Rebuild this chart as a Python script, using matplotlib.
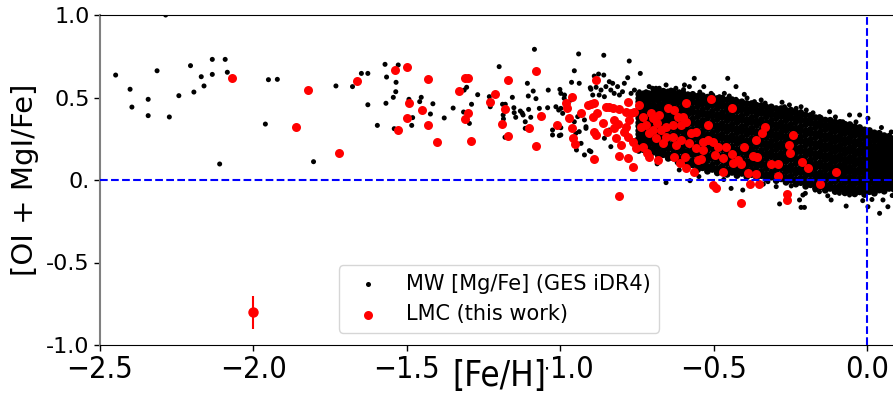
import matplotlib
matplotlib.use('Agg')
import matplotlib.pyplot as plt
from matplotlib import font_manager

# ---------------- data ----------------
# sparse / field Milky Way stars: ([Fe/H], [Mg/Fe])
mw_sparse = [
    (-2.449, 0.636), (-2.402, 0.550), (-2.396, 0.442), (-2.343, 0.489), (-2.343, 0.390),
    (-2.314, 0.662), (-2.274, 0.382), (-2.243, 0.511), (-2.205, 0.693), (-2.194, 0.533),
    (-2.170, 0.626), (-2.161, 0.570), (-2.134, 0.731), (-2.134, 0.640), (-2.110, 0.097),
    (-2.092, 0.731), (-2.085, 0.653), (-2.286, 1.000), (-1.961, 0.339), (-1.951, 0.608),
    (-1.922, 0.610), (-1.804, 0.111), (-1.731, 0.570), (-1.677, 0.566), (-1.648, 0.646),
    (-1.627, 0.646), (-1.627, 0.456), (-1.596, 0.331),
    (-1.571, 0.701), (-1.566, 0.624), (-1.528, 0.697), (-1.535, 0.592), (-1.536, 0.535),
    (-1.544, 0.501), (-1.568, 0.465), (-1.541, 0.311), (-1.493, 0.489), (-1.481, 0.378),
    (-1.484, 0.331), (-1.458, 0.475), (-1.453, 0.501), (-1.423, 0.400), (-1.415, 0.462),
    (-1.378, 0.376), (-1.349, 0.436), (-1.313, 0.545), (-1.305, 0.562), (-1.315, 0.412),
    (-1.296, 0.343), (-1.289, 0.459), (-1.269, 0.517), (-1.231, 0.505), (-1.228, 0.444),
    (-1.199, 0.687), (-1.188, 0.459), (-1.179, 0.459), (-1.186, 0.394), (-1.185, 0.370),
    (-1.180, 0.259), (-1.156, 0.501), (-1.151, 0.438), (-1.150, 0.408), (-1.145, 0.380),
    (-1.130, 0.418), (-1.124, 0.406), (-1.121, 0.394), (-1.114, 0.353), (-1.114, 0.313),
    (-1.107, 0.586), (-1.104, 0.509), (-1.088, 0.539), (-1.079, 0.493), (-1.103, 0.428),
    (-1.096, 0.380), (-1.068, 0.434), (-1.084, 0.792), (-1.039, 0.545), (-1.041, 0.438),
    (-1.001, 0.549), (-1.014, 0.444), (-1.005, 0.424), (-0.998, 0.434), (-1.025, 0.303),
    (-1.025, 0.273), (-1.003, 0.269), (-0.998, 0.317), (-0.986, 0.515), (-0.963, 0.592),
    (-0.954, 0.662), (-0.940, 0.764), (-0.965, 0.485), (-0.949, 0.283), (-0.947, 0.182),
    (-0.902, 0.559), (-0.921, 0.152), (-0.905, 0.178), (-0.916, 0.323), (-0.894, 0.515),
    (-0.938, 0.586), (-0.858, 0.756), (-0.775, 0.721), (-0.739, 0.646), (-0.889, 0.630),
    (-0.875, 0.642), (-0.858, 0.636), (-0.840, 0.596), (-0.829, 0.586), (-0.851, 0.566),
    (-0.867, 0.545), (-0.883, 0.562), (-0.900, 0.550), (-0.873, 0.515), (-0.856, 0.505),
    (-0.835, 0.545), (-0.824, 0.525), (-0.807, 0.515), (-0.791, 0.586), (-0.780, 0.620),
    (-0.813, 0.566), (-0.797, 0.535), (-0.769, 0.525), (-0.758, 0.545), (-0.742, 0.535),
    (-0.998, 0.525), (-0.987, 0.495), (-0.976, 0.434), (-0.992, 0.404), (-0.954, 0.353),
    (-0.943, 0.384), (-0.921, 0.364), (-0.916, 0.313), (-0.938, 0.293), (-0.998, 0.273),
    (-0.900, 0.172), (-0.932, 0.222), (-0.840, 0.303), (-0.856, 0.253), (-0.835, 0.202),
    (-0.753, 0.242), (-0.655, -0.016), (-0.577, -0.004), (-0.443, -0.051),
    (-0.710, 0.566), (-0.688, 0.556), (-0.655, 0.576), (-0.639, 0.545), (-0.595, 0.576),
    (-0.563, 0.616), (-0.532, 0.566), (-0.508, 0.525), (-0.481, 0.505), (-0.454, 0.616),
    (-0.427, 0.566), (-0.677, 0.535), (-0.579, 0.566), (-0.623, 0.556), (-0.677, 0.556),
    (-0.699, 0.556), (-0.720, 0.535), (-0.646, 0.525), (-0.612, 0.535), (-0.525, 0.101),
    (-0.465, 0.525), (-0.449, 0.509), (-0.427, 0.489), (-0.503, 0.515), (-0.400, 0.519),
    (-0.367, 0.475), (-0.345, 0.485), (-0.378, 0.465), (-0.277, 0.471), (-0.253, 0.455),
    (-0.231, 0.434), (-0.215, 0.414), (-0.198, 0.424), (-0.313, 0.424), (-0.285, 0.424),
    (-0.269, 0.444), (-0.405, -0.061), (-0.285, -0.145), (-0.220, -0.121), (-0.215, -0.166),
    (-0.323, -0.010), (-0.296, -0.040), (-0.247, -0.036), (-0.201, -0.081),
    (-0.215, 0.444), (-0.122, 0.414), (-0.057, 0.394), (-0.024, 0.394), (0.003, 0.374),
    (-0.079, 0.353), (-0.155, 0.384), (-0.209, -0.091), (-0.204, -0.166), (-0.068, -0.158),
    (-0.117, -0.121), (-0.014, -0.125), (0.003, -0.162), (0.041, -0.202), (0.068, -0.162),
    (0.052, -0.121), (-0.169, -0.061), (-0.155, -0.071), (-0.090, -0.081), (-0.057, -0.091),
    (0.025, -0.081), (-0.598, 0.548), (-0.545, 0.533), (-0.391, 0.497), (-0.332, 0.466),
    (-0.176, 0.407), (-0.103, 0.382), (-0.036, 0.352), (0.047, 0.318), (0.079, 0.291),
    (-0.612, 0.061), (-0.548, 0.021), (-0.338, -0.025), (-0.128, -0.096), (0.016, -0.118),
    (0.082, -0.094), (-0.684, 0.098), (-0.467, 0.003),
]

# dense Milky Way core, read column by column ([Fe/H] of column, [Mg/Fe] values)
mw_core_feh = [
    -0.744, -0.728, -0.712, -0.696, -0.680, -0.664, -0.648, -0.632, -0.616, -0.600,
    -0.584, -0.568, -0.552, -0.536, -0.520, -0.504, -0.488, -0.472, -0.456, -0.440,
    -0.424, -0.408, -0.392, -0.376, -0.360, -0.344, -0.328, -0.312, -0.296, -0.280,
    -0.264, -0.248, -0.232, -0.216, -0.200, -0.184, -0.168, -0.152, -0.136, -0.120,
    -0.104, -0.088, -0.072, -0.056, -0.040, -0.024, -0.008, 0.008, 0.024, 0.040,
    0.056, 0.072, 0.088,
]
mw_core_mgfe = [
    [.179, .201, .228, .250, .277, .299, .327, .347, .375, .396, .425, .446, .474, .495, .520],
    [.183, .204, .232, .253, .281, .302, .330, .351, .379, .400, .428, .449, .477, .498, .523],
    [.163, .185, .215, .237, .267, .289, .319, .341, .371, .393, .423, .445, .475, .497, .524],
    [.168, .190, .220, .243, .273, .295, .325, .348, .378, .400, .430, .453, .483, .505, .531],
    [.147, .171, .202, .226, .257, .281, .313, .336, .368, .391, .423, .447, .478, .502, .530],
    [.153, .177, .209, .234, .266, .290, .323, .347, .379, .404, .436, .460, .493, .517, .538],
    [.131, .156, .189, .214, .247, .272, .305, .330, .363, .388, .421, .446, .479, .504, .534],
    [.134, .160, .193, .219, .252, .278, .312, .337, .371, .396, .430, .456, .489, .515, .536],
    [.108, .134, .168, .194, .228, .254, .288, .314, .348, .374, .408, .434, .468, .494, .525],
    [.112, .139, .173, .200, .235, .261, .296, .322, .357, .384, .418, .445, .479, .506, .528],
    [.086, .113, .148, .175, .210, .237, .272, .299, .334, .361, .396, .423, .458, .485, .517],
    [.091, .119, .154, .182, .217, .245, .281, .308, .344, .371, .407, .435, .470, .498, .519],
    [.063, .091, .127, .155, .191, .219, .255, .283, .319, .347, .383, .411, .447, .475, .508],
    [.074, .102, .138, .167, .203, .231, .267, .296, .332, .360, .396, .425, .461, .489, .511],
    [.053, .081, .118, .146, .182, .211, .247, .275, .311, .340, .376, .404, .441, .469, .502],
    [.064, .092, .129, .157, .194, .222, .259, .287, .323, .352, .388, .417, .453, .482, .504],
    [.043, .071, .108, .136, .173, .201, .237, .266, .302, .331, .367, .396, .432, .460, .494],
    [.055, .083, .120, .148, .185, .213, .250, .278, .314, .343, .379, .408, .444, .473, .496],
    [.034, .063, .099, .128, .164, .193, .229, .258, .294, .323, .359, .388, .424, .453, .486],
    [.046, .074, .111, .139, .176, .204, .241, .269, .305, .334, .370, .399, .435, .464, .487],
    [.027, .055, .091, .120, .156, .184, .220, .249, .285, .313, .349, .378, .414, .442, .475],
    [.040, .068, .104, .132, .168, .196, .232, .260, .296, .324, .360, .388, .424, .452, .474],
    [.020, .048, .084, .112, .148, .176, .211, .239, .275, .303, .339, .367, .403, .431, .464],
    [.033, .061, .096, .124, .160, .188, .223, .251, .287, .314, .350, .378, .414, .441, .463],
    [.014, .042, .077, .105, .140, .168, .204, .231, .267, .294, .330, .358, .393, .421, .453],
    [.026, .053, .089, .116, .152, .179, .214, .242, .277, .305, .340, .367, .403, .430, .452],
    [.005, .032, .068, .095, .131, .158, .193, .221, .256, .284, .319, .346, .382, .409, .442],
    [.017, .044, .080, .107, .143, .170, .205, .233, .268, .296, .331, .358, .394, .421, .443],
    [-.004, .023, .059, .086, .122, .149, .184, .212, .247, .275, .310, .337, .373, .400, .433],
    [.007, .034, .070, .097, .133, .160, .195, .223, .258, .286, .321, .348, .384, .411, .433],
    [-.014, .013, .049, .076, .112, .139, .174, .202, .237, .265, .300, .327, .363, .390, .423],
    [-.003, .024, .060, .087, .123, .150, .185, .213, .248, .276, .311, .338, .374, .401, .423],
    [-.025, .002, .038, .065, .100, .128, .163, .190, .225, .253, .288, .315, .351, .378, .410],
    [-.016, .011, .046, .074, .109, .136, .171, .198, .234, .261, .296, .323, .358, .386, .407],
    [-.038, -.011, .024, .051, .086, .114, .149, .176, .211, .238, .273, .300, .335, .362, .394],
    [-.029, -.002, .033, .060, .095, .122, .156, .183, .218, .245, .280, .307, .342, .369, .391],
    [-.051, -.024, .011, .038, .073, .099, .134, .161, .196, .223, .258, .284, .319, .346, .378],
    [-.042, -.015, .019, .046, .081, .107, .142, .169, .203, .230, .265, .292, .326, .353, .375],
    [-.062, -.035, -.001, .026, .060, .087, .122, .148, .183, .209, .244, .270, .305, .332, .363],
    [-.051, -.025, .010, .036, .071, .097, .131, .158, .192, .219, .253, .279, .314, .340, .362],
    [-.070, -.044, -.009, .017, .051, .078, .112, .138, .172, .199, .233, .259, .294, .320, .351],
    [-.059, -.033, .001, .027, .061, .088, .122, .148, .182, .208, .242, .268, .302, .328, .349],
    [-.078, -.052, -.018, .008, .042, .068, .101, .127, .161, .187, .221, .247, .281, .307, .338],
    [-.067, -.041, -.008, .018, .052, .078, .111, .137, .171, .196, .230, .256, .289, .315, .336],
    [-.084, -.059, -.025, .000, .033, .059, .092, .117, .150, .176, .209, .234, .268, .293, .323],
    [-.072, -.047, -.014, .010, .043, .068, .100, .125, .158, .182, .215, .240, .272, .297, .318],
    [-.088, -.064, -.032, -.007, .025, .049, .081, .105, .138, .162, .194, .218, .250, .275, .304],
    [-.071, -.048, -.016, .007, .039, .062, .093, .117, .148, .172, .203, .226, .258, .281, .300],
    [-.080, -.058, -.027, -.005, .026, .048, .078, .101, .131, .154, .184, .206, .237, .259, .286],
    [-.061, -.040, -.010, .011, .041, .062, .091, .113, .142, .164, .193, .214, .244, .265, .283],
    [-.068, -.048, -.019, .001, .029, .050, .078, .098, .126, .147, .175, .195, .224, .244, .269],
    [-.051, -.032, -.004, .015, .043, .062, .090, .109, .136, .156, .183, .203, .230, .250, .265],
    [-.057, -.039, -.013, .006, .032, .051, .077, .095, .121, .140, .166, .184, .210, .229, .252],
]

# LMC stars (this work): ([Fe/H], [OI + MgI/Fe])
lmc = [
    (-2.070, 0.618), (-1.861, 0.323), (-1.822, 0.545), (-1.720, 0.164), (-1.661, 0.602),
    (-1.540, 0.668), (-1.501, 0.683), (-1.492, 0.465), (-1.501, 0.374), (-1.530, 0.303),
    (-1.451, 0.426), (-1.432, 0.612), (-1.430, 0.331), (-1.401, 0.230), (-1.331, 0.539),
    (-1.311, 0.620), (-1.299, 0.620), (-1.300, 0.408), (-1.310, 0.372), (-1.290, 0.238),
    (-1.230, 0.475), (-1.211, 0.523), (-1.171, 0.606), (-1.180, 0.430), (-1.190, 0.338),
    (-1.170, 0.269), (-1.080, 0.658), (-1.061, 0.388), (-1.101, 0.313), (-1.080, 0.206),
    (-1.011, 0.333), (-0.981, 0.465), (-0.979, 0.434), (-0.961, 0.501), (-0.970, 0.374),
    (-0.961, 0.313), (-0.959, 0.253), (-0.951, 0.218),
    (-0.883, 0.606), (-0.889, 0.125), (-0.883, 0.273), (-0.894, 0.384), (-0.911, 0.455),
    (-0.900, 0.461), (-0.889, 0.465), (-0.932, 0.408), (-0.891, 0.293), (-0.881, 0.404),
    (-0.851, 0.444), (-0.840, 0.440), (-0.829, 0.434), (-0.807, 0.428),
    (-0.862, 0.343), (-0.846, 0.293), (-0.824, 0.313), (-0.824, 0.364), (-0.813, 0.339),
    (-0.818, 0.253), (-0.802, 0.212), (-0.809, 0.145), (-0.809, -0.095),
    (-0.780, 0.475), (-0.786, 0.414), (-0.769, 0.404), (-0.775, 0.364), (-0.758, 0.414),
    (-0.742, 0.455), (-0.791, 0.293), (-0.780, 0.259), (-0.764, 0.232), (-0.786, 0.323),
    (-0.780, 0.131), (-0.762, 0.077), (-0.753, 0.192), (-0.731, 0.202),
    (-0.731, 0.384), (-0.737, 0.323), (-0.720, 0.333), (-0.709, 0.283), (-0.699, 0.303),
    (-0.704, 0.404), (-0.699, 0.374), (-0.683, 0.343),
    (-0.718, 0.162), (-0.709, 0.141), (-0.680, 0.121),
    (-0.688, 0.253), (-0.666, 0.222), (-0.655, 0.262),
    (-0.672, 0.303), (-0.655, 0.323), (-0.633, 0.333),
    (-0.650, 0.434), (-0.628, 0.424), (-0.617, 0.384), (-0.601, 0.384), (-0.590, 0.465),
    (-0.633, 0.262), (-0.622, 0.212), (-0.606, 0.242),
    (-0.628, 0.141), (-0.611, 0.101), (-0.592, 0.141), (-0.590, 0.071), (-0.563, 0.050),
    (-0.574, 0.283), (-0.557, 0.293), (-0.579, 0.222), (-0.557, 0.192),
    (-0.552, 0.121), (-0.590, 0.353), (-0.606, 0.333), (-0.677, 0.394),
    (-0.510, 0.491), (-0.441, 0.434), (-0.519, 0.333), (-0.536, 0.232), (-0.519, 0.242),
    (-0.503, 0.232), (-0.487, 0.202), (-0.536, 0.182), (-0.497, 0.152), (-0.470, 0.131),
    (-0.460, 0.198), (-0.441, 0.156), (-0.438, 0.101), (-0.421, 0.121), (-0.410, 0.097),
    (-0.470, 0.050), (-0.503, -0.030), (-0.492, -0.051), (-0.383, -0.026), (-0.351, -0.024),
    (-0.410, -0.141), (-0.400, 0.198), (-0.389, 0.041), (-0.362, 0.242), (-0.342, 0.287),
    (-0.331, 0.323), (-0.373, 0.147), (-0.360, 0.137), (-0.362, 0.034), (-0.313, 0.097),
    (-0.289, 0.097), (-0.291, 0.026), (-0.261, -0.085), (-0.261, -0.121), (-0.253, 0.212),
    (-0.251, 0.162), (-0.240, 0.271), (-0.212, 0.107), (-0.193, 0.071), (-0.541, 0.125),
    (-0.101, 0.047), (-0.152, -0.026),
]

# typical error bar
err_feh = [-2.0]
err_alpha = [-0.8]
err_size = [0.1]

xtick_vals = [-2.5, -2.0, -1.5, -1.0, -0.5, 0.0]
xtick_labels = ['\u22122.5', '\u22122.0', '\u22121.5', '\u22121.0', '\u22120.5', '0.0']
ytick_vals = [-1.0, -0.5, 0.0, 0.5, 1.0]
ytick_labels = ['-1.0', '-0.5', '0.', '0.5', '1.0']

# ---------------- build point lists ----------------
mw_x = [p[0] for p in mw_sparse]
mw_y = [p[1] for p in mw_sparse]
mw_s = [13] * len(mw_sparse)
for cx, ys in zip(mw_core_feh, mw_core_mgfe):
    for yv in ys:
        mw_x.append(cx)
        mw_y.append(yv)
        mw_s.append(24)   # crowded core: overlapping stars merge into one patch
lmc_x = [p[0] for p in lmc]
lmc_y = [p[1] for p in lmc]


# regular-weight condensed font for the x axis, if one is installed
def pick_narrow():
    fl = font_manager.fontManager.ttflist
    def w(f):
        try:
            return int(f.weight)
        except (TypeError, ValueError):
            return {'normal': 400, 'regular': 400, 'book': 400}.get(str(f.weight), 700)
    for f in fl:
        if f.name == 'DejaVu Sans' and f.stretch == 'condensed' and w(f) == 400 \
                and f.style == 'normal':
            return font_manager.FontProperties(fname=f.fname)
    for f in fl:
        if ('Narrow' in f.name or 'Condensed' in f.name) and w(f) in (300, 400) \
                and f.style == 'normal':
            return font_manager.FontProperties(fname=f.fname)
    return font_manager.FontProperties(family='DejaVu Sans')


narrow_font = pick_narrow()

# ---------------- figure ----------------
W, H = 893, 394
fig = plt.figure(figsize=(W / 100, H / 100), dpi=100)
ax = fig.add_axes([100 / W, 49 / H, 797.7 / W, 330 / H])

mw_sc = ax.scatter(mw_x, mw_y, s=mw_s, c='black', linewidths=0, zorder=2,
                   label='MW [Mg/Fe] (GES iDR4)')
lmc_sc = ax.scatter(lmc_x, lmc_y, s=42, c='red', linewidths=0, zorder=3,
                    label='LMC (this work)')
ax.errorbar(err_feh, err_alpha, yerr=err_size, fmt='o', color='red', ms=6.5,
            elinewidth=1.5, capsize=0, zorder=3)

ax.axhline(0.0, color='blue', ls='--', lw=1.5, zorder=4)
ax.axvline(0.0, color='blue', ls='--', lw=1.5, zorder=4)

ax.set_xlim(-2.5, 0.1)
ax.set_ylim(-1.0, 1.0)

ax.set_yticks(ytick_vals)
ax.set_yticklabels(ytick_labels, fontsize=16, family='DejaVu Sans')
ax.set_xticks(xtick_vals)
ax.set_xticklabels(xtick_labels)
for lab in ax.get_xticklabels():
    lab.set_fontproperties(narrow_font)
    lab.set_fontsize(22)
ax.tick_params(axis='both', direction='out', length=4, width=1, colors='black')
ax.tick_params(axis='x', pad=3)

ax.spines['left'].set_color('#808080')
ax.spines['left'].set_linewidth(1.5)
ax.spines['top'].set_color('black')
ax.spines['bottom'].set_color('black')
ax.spines['right'].set_visible(False)

ax.set_ylabel('[OI + MgI/Fe]', fontsize=21, family='DejaVu Sans')
ax.yaxis.set_label_coords(-75 / 797.7, 0.5)
ax.yaxis.label.set_va('center')

xl = ax.set_xlabel('[Fe/H]')
xl.set_fontproperties(narrow_font)
xl.set_fontsize(25)
ax.xaxis.set_label_coords((499 - 100) / 797.7, (345 - 376) / 330)
xl.set_va('center')
xl.set_bbox(dict(facecolor='white', edgecolor='none', pad=0))
xl.set_zorder(10)

leg = ax.legend(handles=[mw_sc, lmc_sc], loc='lower center', fontsize=15,
                scatterpoints=1, frameon=True, borderaxespad=0.6,
                bbox_to_anchor=(0.5, 0.0))
leg.legend_handles[0].set_sizes([13])
leg.set_zorder(6)

fig.savefig('out.png', dpi=100)
